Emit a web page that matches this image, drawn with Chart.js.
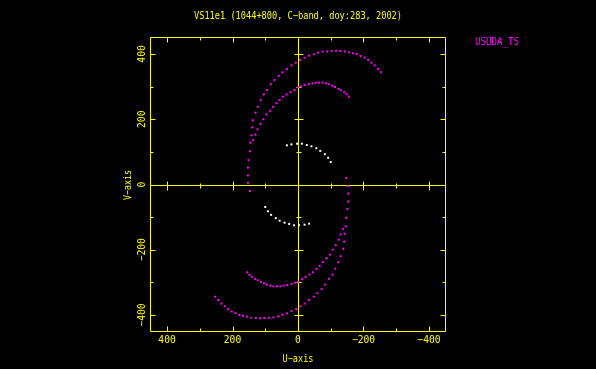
<!DOCTYPE html>
<html><head><meta charset="utf-8">
<script src="https://cdn.jsdelivr.net/npm/chart.js@4"></script>
<style>html,body{margin:0;padding:0;background:#000;overflow:hidden}canvas{display:block}</style>
</head><body>
<canvas id="c" width="596" height="369" style="width:596px;height:369px"></canvas>
<script>
// ---- text ----
const titleText = 'VS11e1 (1044+800, C-band, doy:283, 2002)';
const legendLabel = 'USUDA_TS';
const xTitle = 'U-axis';
const yTitle = 'V-axis';
const tickValues = [-400, -300, -200, -100, 0, 100, 200, 300, 400];
const labelValues = [-400, -200, 0, 200, 400];

// ---- data: magenta (USUDA_TS) outer track, upper half ----
const outerUpperU = [147,153,153,153,151,147,146,142,141,138,130,123,114,105,95,83,72,59,48,34,20,7,-6,-20,-34,-48,-61,-75,-89,-103,-116,-129,-143,-156,-168,-179,-191,-203,-214,-224,-234,-244,-253];
const outerUpperV = [-20,5,28,52,75,102,128,151,175,197,220,238,258,276,289,307,320,333,344,354,365,373,382,388,395,399,404,407,408,409,410,409,408,405,402,400,394,389,382,373,365,354,344];
// outer track, lower half (conjugate points)
const outerLowerU = [-147,-153,-153,-153,-151,-147,-146,-142,-141,-138,-130,-123,-114,-105,-95,-83,-72,-59,-48,-34,-20,-7,6,20,34,48,61,75,89,103,116,129,143,156,168,179,191,203,214,224,234,244,253];
const outerLowerV = [20,-5,-28,-52,-75,-102,-128,-151,-175,-197,-220,-238,-258,-276,-289,-307,-320,-333,-344,-354,-365,-373,-382,-388,-395,-399,-404,-407,-408,-409,-410,-409,-408,-405,-402,-400,-394,-389,-382,-373,-365,-354,-344];
// inner track, upper half
const innerUpperU = [137,130,124,115,106,97,86,76,66,56,46,35,23,12,0,-9,-20,-33,-44,-54,-64,-75,-85,-95,-104,-113,-123,-131,-141,-148,-155];
const innerUpperV = [136,153,169,186,200,215,226,238,249,259,269,276,283,289,298,301,305,308,310,312,312,312,310,307,303,299,293,289,283,277,269];
// inner track, lower half (conjugate points)
const innerLowerU = [-137,-130,-124,-115,-106,-97,-86,-76,-66,-56,-46,-35,-23,-12,0,9,20,33,44,54,64,75,85,95,104,113,123,131,141,148,155];
const innerLowerV = [-136,-153,-169,-186,-200,-215,-226,-238,-249,-259,-269,-276,-283,-289,-298,-301,-305,-308,-310,-312,-312,-312,-310,-307,-303,-299,-293,-289,-283,-277,-269];
// white short track
const whiteUpperU = [34,20,3,-12,-27,-41,-56,-68,-82,-92,-100];
const whiteUpperV = [120,123,125,125,121,117,111,103,93,82,69];
const whiteLowerU = [-34,-20,-3,12,27,41,56,68,82,92,100];
const whiteLowerV = [-120,-123,-125,-125,-121,-117,-111,-103,-93,-82,-69];

const YEL = '#ffff00', MAG = '#ff00ff', WHT = '#ffffff';
const FONT = '10px "DejaVu Sans Mono", monospace';

function pts(us, vs) { return us.map((u, i) => ({x: u, y: vs[i]})); }
function ds(us, vs, color) {
  return { data: pts(us, vs), pointStyle: 'rect', pointRadius: 1.4, pointBorderWidth: 0,
           backgroundColor: color, borderColor: color, showLine: false, pointHoverRadius: 1.4 };
}
function minus(v) { return String(v).replace('-', '\u2212'); }

const axesPlugin = {
  id: 'pgAxes',
  beforeDraw(chart) {
    const ctx = chart.ctx;
    ctx.save(); ctx.fillStyle = '#000'; ctx.fillRect(0, 0, chart.width, chart.height); ctx.restore();
  },
  beforeDatasetsDraw(chart) {
    const ctx = chart.ctx, a = chart.chartArea, xs = chart.scales.x, ys = chart.scales.y;
    const L = Math.round(a.left) + 0.5, R = Math.round(a.right) - 0.5;
    const T = Math.round(a.top) + 0.5, B = Math.round(a.bottom) - 0.5;
    const x0 = Math.round(xs.getPixelForValue(0)) + 0.5, y0 = Math.round(ys.getPixelForValue(0)) + 0.5;
    ctx.save();
    ctx.strokeStyle = YEL; ctx.lineWidth = 1;
    ctx.beginPath();
    ctx.rect(L, T, R - L, B - T);
    ctx.moveTo(L, y0); ctx.lineTo(R, y0);
    ctx.moveTo(x0, T); ctx.lineTo(x0, B);
    tickValues.forEach(v => {
      const len = (v % 200 === 0) ? 5 : 3;
      const px = Math.round(xs.getPixelForValue(v)) + 0.5;
      const py = Math.round(ys.getPixelForValue(v)) + 0.5;
      // box ticks, inward
      ctx.moveTo(px, B); ctx.lineTo(px, B - len);
      ctx.moveTo(px, T); ctx.lineTo(px, T + len);
      ctx.moveTo(L, py); ctx.lineTo(L + len, py);
      ctx.moveTo(R, py); ctx.lineTo(R - len, py);
      // ticks on the zero lines
      if (v !== 0) {
        ctx.moveTo(px, y0 - len + 1); ctx.lineTo(px, y0 + len);
        ctx.moveTo(x0 - len + 1, py); ctx.lineTo(x0 + len, py);
      }
    });
    ctx.stroke();

    ctx.fillStyle = YEL; ctx.font = FONT;
    ctx.textAlign = 'center'; ctx.textBaseline = 'middle';
    labelValues.forEach(v => {
      const s = minus(v);
      ctx.fillText(s, xs.getPixelForValue(v), 340, s.length * 5.8);
      ctx.save();
      ctx.translate(142, ys.getPixelForValue(v));
      ctx.rotate(-Math.PI / 2);
      ctx.fillText(s, 0, 0, s.length * 5.8);
      ctx.restore();
    });
    ctx.fillText(xTitle.replace('-', '\u2212'), 298, 359, 31);
    ctx.save();
    ctx.translate(128, 185); ctx.rotate(-Math.PI / 2);
    ctx.fillText(yTitle.replace('-', '\u2212'), 0, 0, 30);
    ctx.restore();
    ctx.fillText(titleText.replace('C-band', 'C\u2212band'), 298, 16, 208);
    ctx.fillStyle = MAG; ctx.textAlign = 'left';
    ctx.fillText(legendLabel, 475, 42, 44);
    ctx.restore();
  }
};

new Chart(document.getElementById('c'), {
  type: 'scatter',
  data: { datasets: [
    ds(outerUpperU, outerUpperV, MAG), ds(outerLowerU, outerLowerV, MAG),
    ds(innerUpperU, innerUpperV, MAG), ds(innerLowerU, innerLowerV, MAG),
    ds(whiteUpperU, whiteUpperV, WHT), ds(whiteLowerU, whiteLowerV, WHT)
  ]},
  options: {
    responsive: false, animation: false, devicePixelRatio: 1,
    layout: { padding: { left: 150, right: 150, top: 37, bottom: 37 } },
    plugins: { legend: { display: false }, title: { display: false }, tooltip: { enabled: false } },
    scales: {
      x: { type: 'linear', min: -452, max: 452, reverse: true, display: false },
      y: { type: 'linear', min: -452, max: 452, display: false }
    }
  },
  plugins: [axesPlugin]
});
</script>
</body></html>
